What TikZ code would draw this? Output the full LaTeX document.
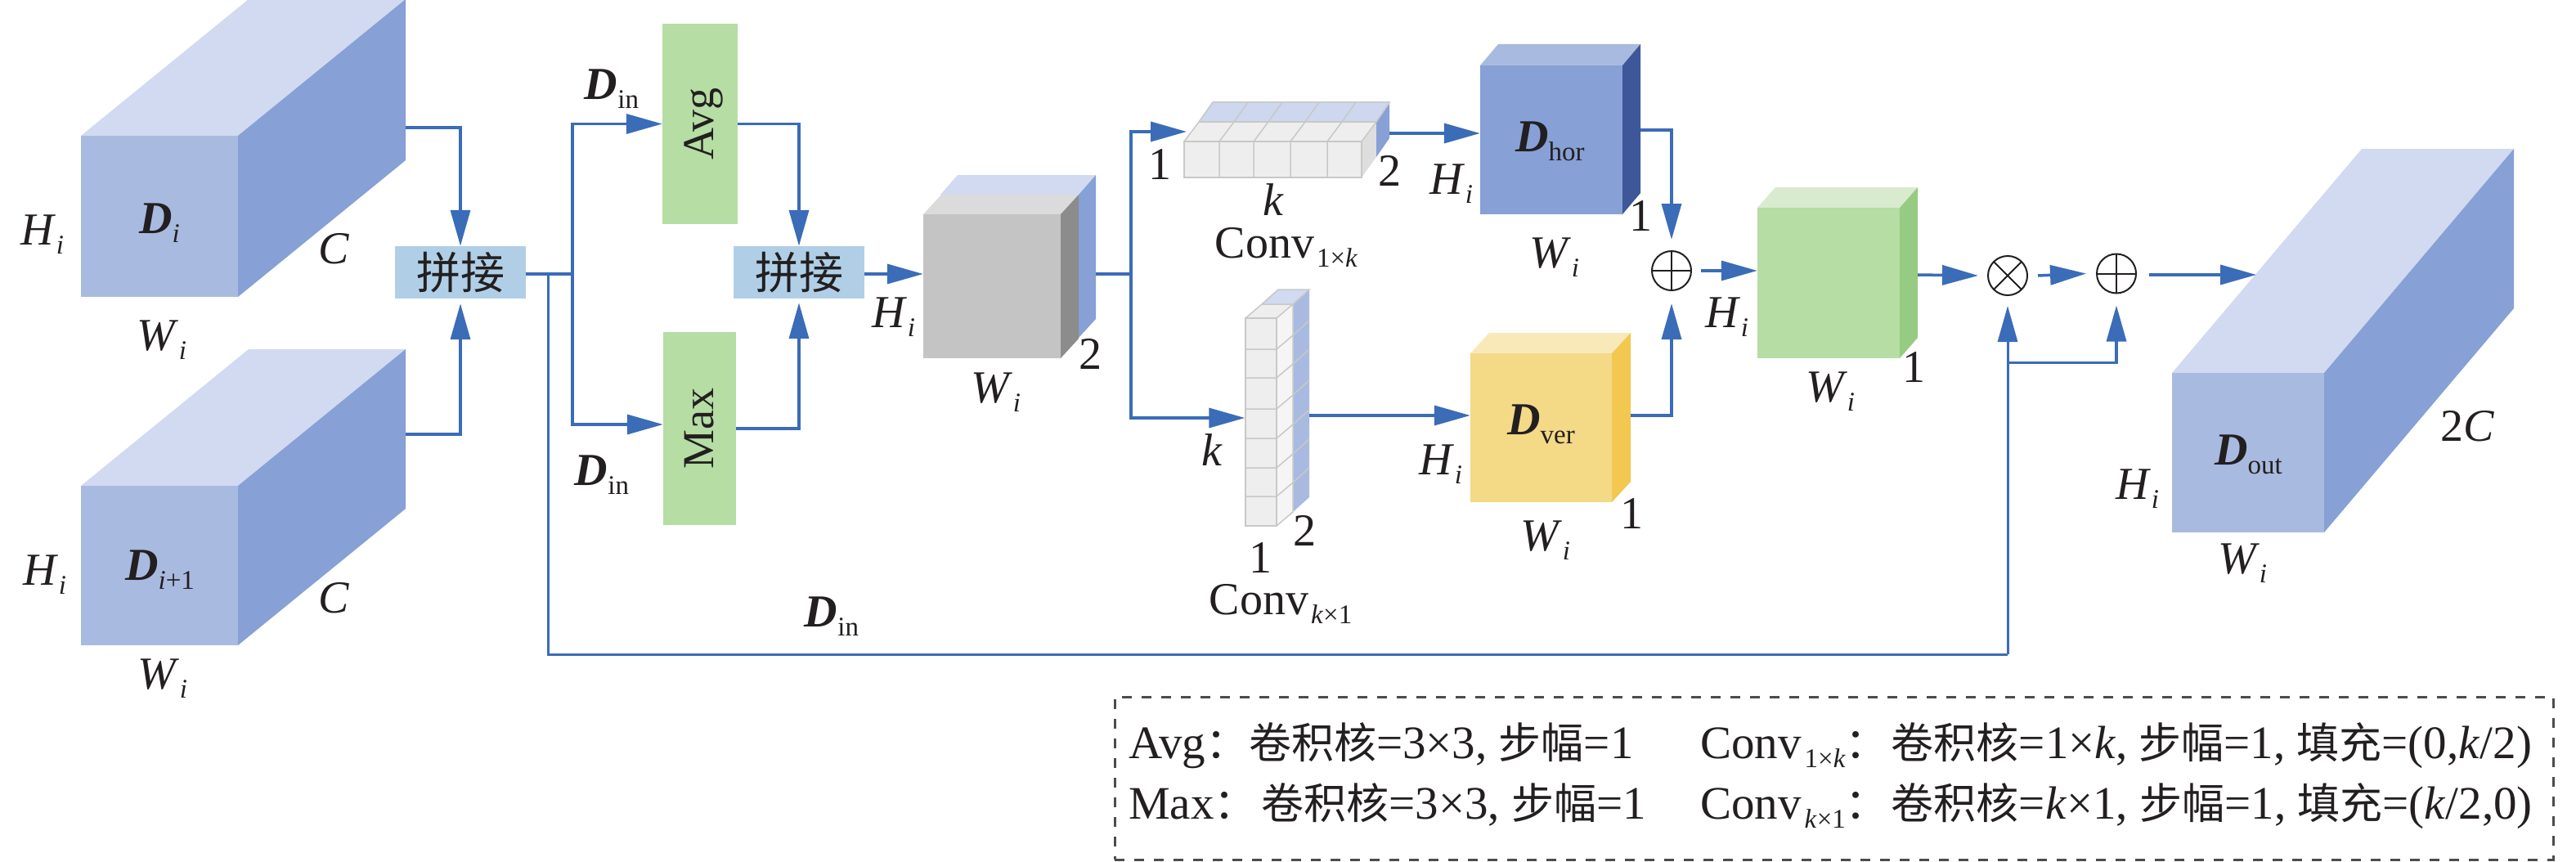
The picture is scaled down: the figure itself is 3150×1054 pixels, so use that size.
\documentclass[tikz,border=0pt]{standalone}
\usepackage{fontspec}
\usepackage{graphicx}
\setmainfont{Liberation Serif}
\newfontfamily\cjk{Noto Sans CJK SC}
\usetikzlibrary{arrows.meta}
\definecolor{flowblue}{RGB}{58,108,184}
\definecolor{inkblack}{RGB}{35,31,32}
\definecolor{cubefront}{RGB}{169,186,224}
\definecolor{cubetop}{RGB}{209,218,240}
\definecolor{cubeside}{RGB}{135,160,213}
\definecolor{hordark}{RGB}{61,87,153}
\definecolor{yelfront}{RGB}{244,217,135}
\definecolor{yeltop}{RGB}{249,233,184}
\definecolor{yelside}{RGB}{242,200,81}
\definecolor{grnfront}{RGB}{181,221,164}
\definecolor{grntop}{RGB}{216,235,207}
\definecolor{grnside}{RGB}{150,204,130}
\definecolor{joinblue}{RGB}{176,207,231}
\definecolor{cellline}{RGB}{200,200,200}
\definecolor{cellfront}{RGB}{238,238,238}
\newcommand{\lowsub}[1]{\raisebox{-11pt}{\fontsize{33}{33}\selectfont #1}}
\newcommand{\itlab}[2]{\textit{#1}\lowsub{\textit{#2}}}
\newcommand{\dlab}[1]{\textbf{\textit{D}}\lowsub{#1}}
\newcommand{\zh}[1]{{\fontsize{52}{60}\selectfont\cjk #1}}

\begin{document}
\begin{tikzpicture}[
  x=1pt,y=-1pt,
  lab/.style={font=\fontsize{56}{60}\selectfont,text=inkblack,inner sep=0pt},
  dname/.style={lab,anchor=base west},
  note/.style={font=\fontsize{57}{60}\selectfont,text=inkblack,inner sep=0pt,anchor=base west},
  opbox/.style={font=\fontsize{54}{60}\selectfont,text=inkblack,inner sep=0pt},
  joinbox/.style={opbox,fill=joinblue,minimum width=160pt,minimum height=64pt},
  pool/.style={opbox,fill=grnfront},
  flow/.style={-{Triangle[length=44pt,width=24pt]},line width=3.5pt,flowblue},
  wire/.style={line width=3.5pt,flowblue},
  cell/.style={draw=cellline,line width=1.5pt},
  sumop/.style={circle,draw=inkblack,line width=2pt,minimum size=48pt,inner sep=0pt,
    path picture={\draw[inkblack,line width=2pt] (path picture bounding box.north) -- (path picture bounding box.south)
      (path picture bounding box.west) -- (path picture bounding box.east);}},
  mulop/.style={circle,draw=inkblack,line width=2pt,minimum size=48pt,inner sep=0pt,
    path picture={\draw[inkblack,line width=2pt] (path picture bounding box.north west) -- (path picture bounding box.south east)
      (path picture bounding box.south west) -- (path picture bounding box.north east);}},
]
  \useasboundingbox (0,0) rectangle (3150,1054);

  % blue layer behind the grey block
  \fill[cubetop] (1150,238) -- (1171,214) -- (1340,214) -- (1319,238) -- cycle;
  \fill[cubeside] (1319,238) -- (1340,214) -- (1340,390) -- (1319,413) -- cycle;

  % solid blocks
  \foreach \n/\x/\y/\w/\h/\dx/\dy/\cf/\ct/\cs in {
    cubeA/99/166/192/197/205/167/cubefront/cubetop/cubeside,
    cubeB/99/594/192/195/205/167/cubefront/cubetop/cubeside,
    gray/1129/262/168/176/22/24/black!23/black!14/black!45,
    hor/1810/80/174/182/22/26/cubeside/cubefront/hordark,
    ver/1798/432/173/182/23/25/yelfront/yeltop/yelside,
    green/2149/254/174/184/22/25/grnfront/grntop/grnside,
    out/2656/456/186/195/232/274/cubefront/cubetop/cubeside}{
    \fill[\ct] (\x,\y) -- (\x+\dx,\y-\dy) -- (\x+\w+\dx,\y-\dy) -- (\x+\w,\y) -- cycle;
    \fill[\cs] (\x+\w,\y) -- (\x+\w+\dx,\y-\dy) -- (\x+\w+\dx,\y+\h-\dy) -- (\x+\w,\y+\h) -- cycle;
    \node[lab,fill=\cf,minimum width=\w pt,minimum height=\h pt] (\n) at (\x+\w/2,\y+\h/2) {};
  }
  \node[dname] (dA) at (170,285) {\dlab{\textit{i}}};
  \node[dname] (dB) at (153,709) {\dlab{\textit{i}+1}};
  \node[dname] (dHor) at (1853,185) {\dlab{hor}};
  \node[dname] (dVer) at (1843,531) {\dlab{ver}};
  \node[dname] (dOut) at (2708,568) {\dlab{out}};

  % operators
  \node[joinbox] (joinA) at (563,333) {\cjk 拼接};
  \node[joinbox] (joinB) at (977,333) {\cjk 拼接};
  \node[pool,minimum width=92pt,minimum height=245pt] (avg) at (856,151.5) {\hspace{8pt}\rotatebox{90}{Avg}};
  \node[pool,minimum width=89pt,minimum height=236pt] (max) at (855.5,524) {\rotatebox{90}{Max}};
  \node[sumop] (plusA) at (2044,331) {};
  \node[mulop] (mul) at (2455,337) {};
  \node[sumop] (plusB) at (2588,334.5) {};

  % horizontal conv strip
  \fill[cellfront] (1448,173) -- (1466,149) -- (1683,149) -- (1665,173) -- cycle;
  \fill[cubetop!90!cubefront] (1466,149) -- (1483,125) -- (1699,125) -- (1683,149) -- cycle;
  \fill[black!13] (1665,173) -- (1683,149) -- (1683,192) -- (1665,217) -- cycle;
  \fill[cubeside] (1683,149) -- (1699,127) -- (1699,169) -- (1683,192) -- cycle;
  \node[cell,fill=cellfront,minimum width=217pt,minimum height=44pt,inner sep=0pt] (convH) at (1556.5,195) {};
  \foreach \x in {1491,1533,1578,1623}{
    \draw[cell] (\x,173) -- (\x,217) (\x,173) -- (\x+18,149) -- (\x+35,125);
  }
  \draw[cell] (1466,149) -- (1683,149) -- (1699,125) -- (1483,125) -- (1466,149) -- (1448,173)
    (1665,173) -- (1683,149);

  % vertical conv strip
  \fill[black!4] (1561,389) -- (1581,372) -- (1581,626) -- (1561,643) -- cycle;
  \fill[cellfront] (1523,389) -- (1543,372) -- (1581,372) -- (1561,389) -- cycle;
  \fill[cubetop] (1543,372) -- (1563,354) -- (1601,354) -- (1581,372) -- cycle;
  \fill[cubefront] (1581,372) -- (1601,354) -- (1601,608) -- (1581,626) -- cycle;
  \node[cell,fill=cellfront,minimum width=38pt,minimum height=254pt,inner sep=0pt] (convV) at (1542,516) {};
  \foreach \y in {427,462,500,536,572,607}{
    \draw[cell] (1523,\y) -- (1561,\y) -- (1581,\y-17) -- (1601,\y-35);
  }
  \draw[cell] (1523,389) -- (1543,372) -- (1581,372) -- (1561,389)
    (1581,372) -- (1581,626) -- (1561,643) (1543,372) -- (1563,354) -- (1601,354) -- (1581,372);

  % free ends and forks
  \coordinate (cubeAout) at (496,156);
  \coordinate (cubeBout) at (496,531);
  \coordinate (forkA) at (700,335);
  \coordinate (forkB) at (670,335);
  \coordinate (skip) at (2455,800);
  \coordinate (skipfork) at (2455,443.5);
  \coordinate (grayout) at (1340,335);
  \coordinate (forkC) at (1383,335);
  \coordinate (convHin) at (1451,161);
  \coordinate (convHout) at (1699,163);
  \coordinate (convVout) at (1601,508);
  \coordinate (horout) at (2006,159);
  \coordinate (verout) at (1994,508);
  \coordinate (greenout) at (2345,336);
  \coordinate (outin) at (2759,336);

  % connectors
  \draw[flow] (cubeAout) -| (joinA.north);
  \draw[flow] (cubeBout) -| ([yshift=-6pt]joinA.south);
  \draw[wire] (joinA.east |- forkA) -- (forkA);
  \draw[flow] (forkA) |- (avg.west);
  \draw[flow] (forkA) |- ([yshift=5pt]max.west);
  \draw[flow] (avg.east) -| (joinB.north);
  \draw[flow] (max.east) -| ([yshift=-5pt]joinB.south);
  \draw[flow] (joinB.east |- forkA) -- (forkA -| gray.west);
  \draw[wire] (grayout) -- (forkC);
  \draw[flow] (forkC) |- (convHin);
  \draw[flow] (forkC) |- ([yshift=5pt]convV.west);
  \draw[flow] (convHout) -- (convHout -| hor.west);
  \draw[flow] (convVout) -- (convVout -| ver.west);
  \draw[flow] (horout) -| ([yshift=13pt]plusA.north);
  \draw[flow] (verout) -| ([yshift=-15pt]plusA.south);
  \draw[flow] ([xshift=11pt]plusA.east) -- (plusA.east -| green.west);
  \draw[flow] (greenout) -- ([xshift=-11pt]mul.west);
  \draw[flow] ([xshift=12pt]mul.east) -- ([xshift=-12pt]plusB.west);
  \draw[flow] ([xshift=15pt]plusB.east |- outin) -- (outin);
  \draw[wire,line width=3pt] (forkB) |- (skip);
  \draw[flow,line width=3pt] (skip) -- ([yshift=-12pt]mul.south);
  \draw[flow] (skipfork) -| ([yshift=-14pt]plusB.south);

  % size labels
  \node[lab] (hA) at (52,287) {\itlab{H}{i}};
  \node[lab] (wA) at (198,416) {\itlab{W}{i}};
  \node[lab] (cA) at (408,304) {\textit{C}};
  \node[lab] (hB) at (55,703) {\itlab{H}{i}};
  \node[lab] (wB) at (199,830) {\itlab{W}{i}};
  \node[lab] (cB) at (408,731) {\textit{C}};
  \node[lab] (dinA) at (748,109) {\dlab{in}};
  \node[lab] (dinB) at (736,581) {\dlab{in}};
  \node[lab] (dinC) at (1017,754) {\dlab{in}};
  \node[lab] (hG) at (1093,388) {\itlab{H}{i}};
  \node[lab] (wG) at (1218,480) {\itlab{W}{i}};
  \node[lab] (twoG) at (1333,433) {2};
  \node[lab] (oneH) at (1418,201) {1};
  \node[lab] (twoH) at (1699,209) {2};
  \node[lab] (kH) at (1557,244) {\textit{k}};
  \node[lab] (nameH) at (1573,302) {Conv\hspace{3pt}\lowsub{1×\textit{k}}};
  \node[lab] (kV) at (1482,550) {\textit{k}};
  \node[lab] (twoV) at (1595,649) {2};
  \node[lab] (oneV) at (1541,682) {1};
  \node[lab] (nameV) at (1566,738) {Conv\hspace{3pt}\lowsub{\textit{k}×1}};
  \node[lab] (hHor) at (1775,225) {\itlab{H}{i}};
  \node[lab] (wHor) at (1901,315) {\itlab{W}{i}};
  \node[lab] (oneHor) at (2006,264) {1};
  \node[lab] (hVer) at (1762,568) {\itlab{H}{i}};
  \node[lab] (wVer) at (1890,661) {\itlab{W}{i}};
  \node[lab] (oneVer) at (1995,628) {1};
  \node[lab] (hGrn) at (2112,388) {\itlab{H}{i}};
  \node[lab] (wGrn) at (2238,479) {\itlab{W}{i}};
  \node[lab] (oneGrn) at (2340,449) {1};
  \node[lab] (hOut) at (2614,598) {\itlab{H}{i}};
  \node[lab] (wOut) at (2742,689) {\itlab{W}{i}};
  \node[lab] (cOut) at (3017,521) {2\textit{C}};

  % parameter box
  \node[draw=black!70,line width=3pt,dash pattern=on 12pt off 12pt,minimum width=1759pt,minimum height=199pt,inner sep=0pt] (legend) at (2242.5,951.5) {};
  \node[note] (noteavg) at (1380,927) {Avg\zh{：}\hspace{1pt}\zh{卷积核}=3×3, \zh{步幅}=1};
  \node[note] (notemax) at (1380,1001) {Max\zh{：}\hspace{6pt}\zh{卷积核}=3×3, \zh{步幅}=1};
  \node[note] (noteH) at (2079,927) {Conv\hspace{4pt}\lowsub{1×\textit{k}}\zh{：}\hspace{4pt}\zh{卷积核}=1×\textit{k}, \zh{步幅}=1, \zh{填充}=(0,\textit{k}/2)};
  \node[note] (noteV) at (2079,1001) {Conv\hspace{4pt}\lowsub{\textit{k}×1}\zh{：}\hspace{4pt}\zh{卷积核}=\textit{k}×1, \zh{步幅}=1, \zh{填充}=(\textit{k}/2,0)};
\end{tikzpicture}
\end{document}
